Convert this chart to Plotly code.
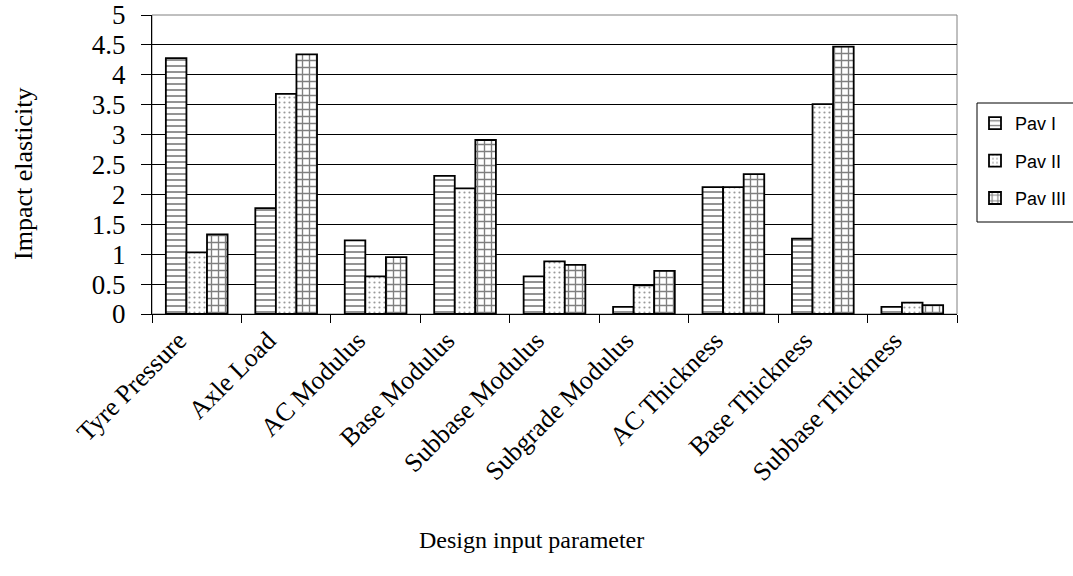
import plotly.graph_objects as go

# Design input parameters and impact elasticity of each pavement section
categories = ["Tyre Pressure", "Axle Load", "AC Modulus", "Base Modulus",
              "Subbase Modulus", "Subgrade Modulus", "AC Thickness",
              "Base Thickness", "Subbase Thickness"]
pav_1 = [4.28, 1.77, 1.23, 2.31, 0.63, 0.12, 2.12, 1.26, 0.12]
pav_2 = [1.03, 3.68, 0.63, 2.10, 0.88, 0.48, 2.12, 3.51, 0.19]
pav_3 = [1.33, 4.34, 0.95, 2.91, 0.82, 0.72, 2.34, 4.47, 0.15]
series_names = ["Pav I", "Pav II", "Pav III"]
y_ticks = [0, 0.5, 1, 1.5, 2, 2.5, 3, 3.5, 4, 4.5, 5]
y_tick_text = ["0", "0.5", "1", "1.5", "2", "2.5", "3", "3.5", "4", "4.5", "5"]

SERIF = "Liberation Serif, Times New Roman, serif"
SANS = "Liberation Sans, Arial, sans-serif"

# plot area in pixels
L, R, T, B = 152, 957, 15, 314
PW, PH = R - L, B - T

patterns = [
    dict(shape="-", fgcolor="black", bgcolor="white", size=6, solidity=0.28),
    dict(shape=".", fgcolor="#333333", bgcolor="white", size=5, solidity=0.15),
    dict(shape="+", fgcolor="black", bgcolor="white", size=7, solidity=0.35),
]

fig = go.Figure()
for i, (name, vals, pat) in enumerate(zip(series_names, [pav_1, pav_2, pav_3], patterns)):
    fig.add_trace(go.Bar(
        x=categories, y=vals, name=name, legendgroup=f"g{i}",
        marker=dict(color="white", pattern=pat,
                    line=dict(color="black", width=1.8)),
    ))

# grey frame around the plotting area
fig.add_shape(type="rect", xref="paper", yref="paper", x0=0, x1=1, y0=0, y1=1,
              line=dict(color="#808080", width=1), layer="below")
# frame around the legend, running off the right edge
fig.add_shape(type="rect", xref="paper", yref="paper",
              x0=(977 - L) / PW, x1=(1090 - L) / PW,
              y0=(B - 222) / PH, y1=(B - 103) / PH,
              line=dict(color="black", width=1), fillcolor="rgba(0,0,0,0)",
              layer="above")

fig.add_annotation(text="Design input parameter", xref="paper", yref="paper",
                   x=(531 - L) / PW, y=-(540 - B) / PH, xanchor="center",
                   yanchor="middle", showarrow=False,
                   font=dict(family=SERIF, size=24, color="black"))
fig.add_annotation(text="Impact elasticity", xref="paper", yref="paper",
                   x=(23 - L) / PW, y=(B - 174) / PH, xanchor="center",
                   yanchor="middle", textangle=-90, showarrow=False,
                   font=dict(family=SERIF, size=26, color="black"))

fig.update_layout(
    width=1073, height=576,
    margin=dict(l=L, r=1073 - R, t=T, b=576 - B, autoexpand=False),
    paper_bgcolor="white", plot_bgcolor="white",
    barmode="group", bargap=0.31, bargroupgap=0,
    font=dict(family=SERIF, color="black"),
    legend=dict(x=(975 - L) / PW, y=(B - 105) / PH, xanchor="left",
                yanchor="top", borderwidth=0, bgcolor="rgba(0,0,0,0)",
                tracegroupgap=11, itemwidth=30,
                font=dict(family=SANS, size=18, color="black")),
    showlegend=True,
)
fig.update_xaxes(
    tickangle=-45, tickson="boundaries", ticks="outside", ticklen=8,
    tickwidth=1, tickcolor="black", showline=True, linecolor="black",
    linewidth=1, showgrid=False, ticklabelshift=-18,
    tickfont=dict(family=SERIF, size=26, color="black"),
)
fig.update_yaxes(
    range=[0, 5], tickvals=y_ticks, ticktext=y_tick_text, ticks="outside",
    ticklen=10, tickwidth=1, tickcolor="black", showline=True,
    linecolor="black", linewidth=1, showgrid=True, gridcolor="black",
    gridwidth=1, zeroline=False, ticklabelstandoff=10,
    tickfont=dict(family=SERIF, size=27, color="black"),
)

fig.write_html("out.html")
